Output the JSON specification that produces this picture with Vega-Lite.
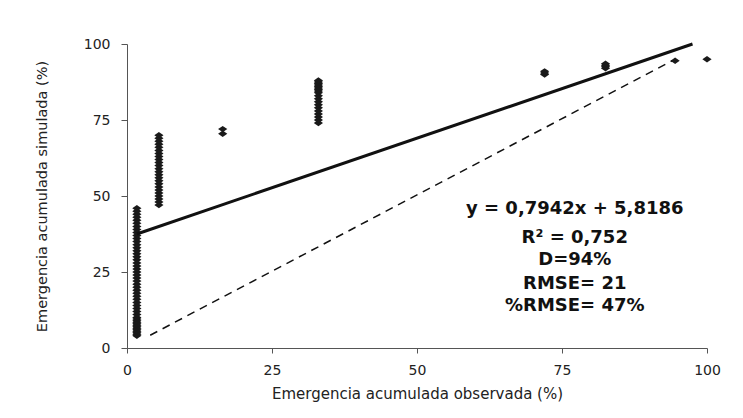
{
  "$schema": "https://vega.github.io/schema/vega-lite/v6.json",
  "width": 580,
  "height": 304,
  "autosize": {"type": "none"},
  "padding": {"left": 127, "top": 44, "right": 36, "bottom": 70},
  "background": "white",
  "config": {
    "view": {"stroke": null},
    "axis": {
      "grid": false,
      "domainColor": "#555",
      "tickColor": "#555",
      "labelFont": "DejaVu Sans",
      "titleFont": "DejaVu Sans",
      "labelColor": "#222",
      "titleColor": "#222",
      "titleFontWeight": "normal"
    }
  },
  "datasets": {
    "points": [
      {"obs": 1.7, "sim": 4}, {"obs": 1.7, "sim": 4.5}, {"obs": 1.7, "sim": 5}, {"obs": 1.7, "sim": 5.5},
      {"obs": 1.7, "sim": 6}, {"obs": 1.7, "sim": 6.5}, {"obs": 1.7, "sim": 7}, {"obs": 1.7, "sim": 7.5},
      {"obs": 1.7, "sim": 8}, {"obs": 1.7, "sim": 8.5}, {"obs": 1.7, "sim": 9}, {"obs": 1.7, "sim": 9.5},
      {"obs": 1.7, "sim": 10}, {"obs": 1.7, "sim": 11}, {"obs": 1.7, "sim": 12}, {"obs": 1.7, "sim": 13},
      {"obs": 1.7, "sim": 14}, {"obs": 1.7, "sim": 15}, {"obs": 1.7, "sim": 16}, {"obs": 1.7, "sim": 17},
      {"obs": 1.7, "sim": 18}, {"obs": 1.7, "sim": 19}, {"obs": 1.7, "sim": 20}, {"obs": 1.7, "sim": 21},
      {"obs": 1.7, "sim": 22}, {"obs": 1.7, "sim": 23}, {"obs": 1.7, "sim": 24}, {"obs": 1.7, "sim": 25},
      {"obs": 1.7, "sim": 26}, {"obs": 1.7, "sim": 27}, {"obs": 1.7, "sim": 28}, {"obs": 1.7, "sim": 29},
      {"obs": 1.7, "sim": 30}, {"obs": 1.7, "sim": 31}, {"obs": 1.7, "sim": 32}, {"obs": 1.7, "sim": 33},
      {"obs": 1.7, "sim": 34}, {"obs": 1.7, "sim": 35}, {"obs": 1.7, "sim": 36}, {"obs": 1.7, "sim": 37},
      {"obs": 1.7, "sim": 38}, {"obs": 1.7, "sim": 39}, {"obs": 1.7, "sim": 40}, {"obs": 1.7, "sim": 41},
      {"obs": 1.7, "sim": 42}, {"obs": 1.7, "sim": 43}, {"obs": 1.7, "sim": 44}, {"obs": 1.7, "sim": 45},
      {"obs": 1.7, "sim": 46},
      {"obs": 5.5, "sim": 47}, {"obs": 5.5, "sim": 48}, {"obs": 5.5, "sim": 49}, {"obs": 5.5, "sim": 50},
      {"obs": 5.5, "sim": 51}, {"obs": 5.5, "sim": 52}, {"obs": 5.5, "sim": 53}, {"obs": 5.5, "sim": 54},
      {"obs": 5.5, "sim": 55}, {"obs": 5.5, "sim": 56}, {"obs": 5.5, "sim": 57}, {"obs": 5.5, "sim": 58},
      {"obs": 5.5, "sim": 59}, {"obs": 5.5, "sim": 60}, {"obs": 5.5, "sim": 61}, {"obs": 5.5, "sim": 62},
      {"obs": 5.5, "sim": 63}, {"obs": 5.5, "sim": 64}, {"obs": 5.5, "sim": 65}, {"obs": 5.5, "sim": 66},
      {"obs": 5.5, "sim": 67}, {"obs": 5.5, "sim": 68}, {"obs": 5.5, "sim": 69}, {"obs": 5.5, "sim": 70},
      {"obs": 16.5, "sim": 70.5}, {"obs": 16.5, "sim": 72},
      {"obs": 33, "sim": 74}, {"obs": 33, "sim": 75}, {"obs": 33, "sim": 76}, {"obs": 33, "sim": 77},
      {"obs": 33, "sim": 78}, {"obs": 33, "sim": 79}, {"obs": 33, "sim": 80}, {"obs": 33, "sim": 81},
      {"obs": 33, "sim": 82}, {"obs": 33, "sim": 83}, {"obs": 33, "sim": 84}, {"obs": 33, "sim": 84.5},
      {"obs": 33, "sim": 85}, {"obs": 33, "sim": 85.5}, {"obs": 33, "sim": 86}, {"obs": 33, "sim": 86.5},
      {"obs": 33, "sim": 87}, {"obs": 33, "sim": 87.5}, {"obs": 33, "sim": 88},
      {"obs": 72, "sim": 90}, {"obs": 72, "sim": 90.5}, {"obs": 72, "sim": 91},
      {"obs": 82.5, "sim": 92}, {"obs": 82.5, "sim": 92.5}, {"obs": 82.5, "sim": 93}, {"obs": 82.5, "sim": 93.5},
      {"obs": 94.5, "sim": 94.5},
      {"obs": 100, "sim": 95}
    ],
    "fit": [
      {"obs": 1.7, "sim": 37.5},
      {"obs": 97.5, "sim": 100}
    ],
    "oneToOne": [
      {"obs": 4, "sim": 4.2},
      {"obs": 94, "sim": 94.5}
    ],
    "stats": [
      {"obs": 77.2, "sim": 45.7, "label": "y = 0,7942x + 5,8186"},
      {"obs": 77.2, "sim": 36.2, "label": "R² = 0,752"},
      {"obs": 77.2, "sim": 28.9, "label": "D=94%"},
      {"obs": 77.2, "sim": 21.2, "label": "RMSE= 21"},
      {"obs": 77.2, "sim": 13.8, "label": "%RMSE= 47%"}
    ]
  },
  "layer": [
    {
      "data": {"name": "points"},
      "mark": {"type": "point", "shape": "M-1,0L0,-0.7L1,0L0,0.7Z", "filled": true, "color": "#1a1a1a", "size": 85, "opacity": 1},
      "encoding": {
        "x": {
          "field": "obs", "type": "quantitative",
          "scale": {"domain": [0, 100], "nice": false},
          "axis": {
            "values": [0, 25, 50, 75, 100],
            "title": "Emergencia acumulada observada (%)",
            "labelFontSize": 14, "titleFontSize": 15,
            "tickSize": 5, "labelPadding": 10, "titlePadding": 9,
            "labelFlush": false
          }
        },
        "y": {
          "field": "sim", "type": "quantitative",
          "scale": {"domain": [0, 100], "nice": false},
          "axis": {
            "values": [0, 25, 50, 75, 100],
            "title": "Emergencia acumulada simulada (%)",
            "labelFontSize": 14, "titleFontSize": 14.5,
            "tickSize": 6, "labelPadding": 11, "titlePadding": 34
          }
        }
      }
    },
    {
      "data": {"name": "fit"},
      "mark": {"type": "line", "color": "#111", "strokeWidth": 3},
      "encoding": {
        "x": {"field": "obs", "type": "quantitative"},
        "y": {"field": "sim", "type": "quantitative"}
      }
    },
    {
      "data": {"name": "oneToOne"},
      "mark": {"type": "line", "color": "#111", "strokeWidth": 1.5, "strokeDash": [8, 6]},
      "encoding": {
        "x": {"field": "obs", "type": "quantitative"},
        "y": {"field": "sim", "type": "quantitative"}
      }
    },
    {
      "data": {"name": "stats"},
      "mark": {"type": "text", "font": "DejaVu Sans", "fontWeight": "bold", "fontSize": 18, "align": "center", "baseline": "middle", "color": "#111"},
      "encoding": {
        "x": {"field": "obs", "type": "quantitative"},
        "y": {"field": "sim", "type": "quantitative"},
        "text": {"field": "label"}
      }
    }
  ]
}
